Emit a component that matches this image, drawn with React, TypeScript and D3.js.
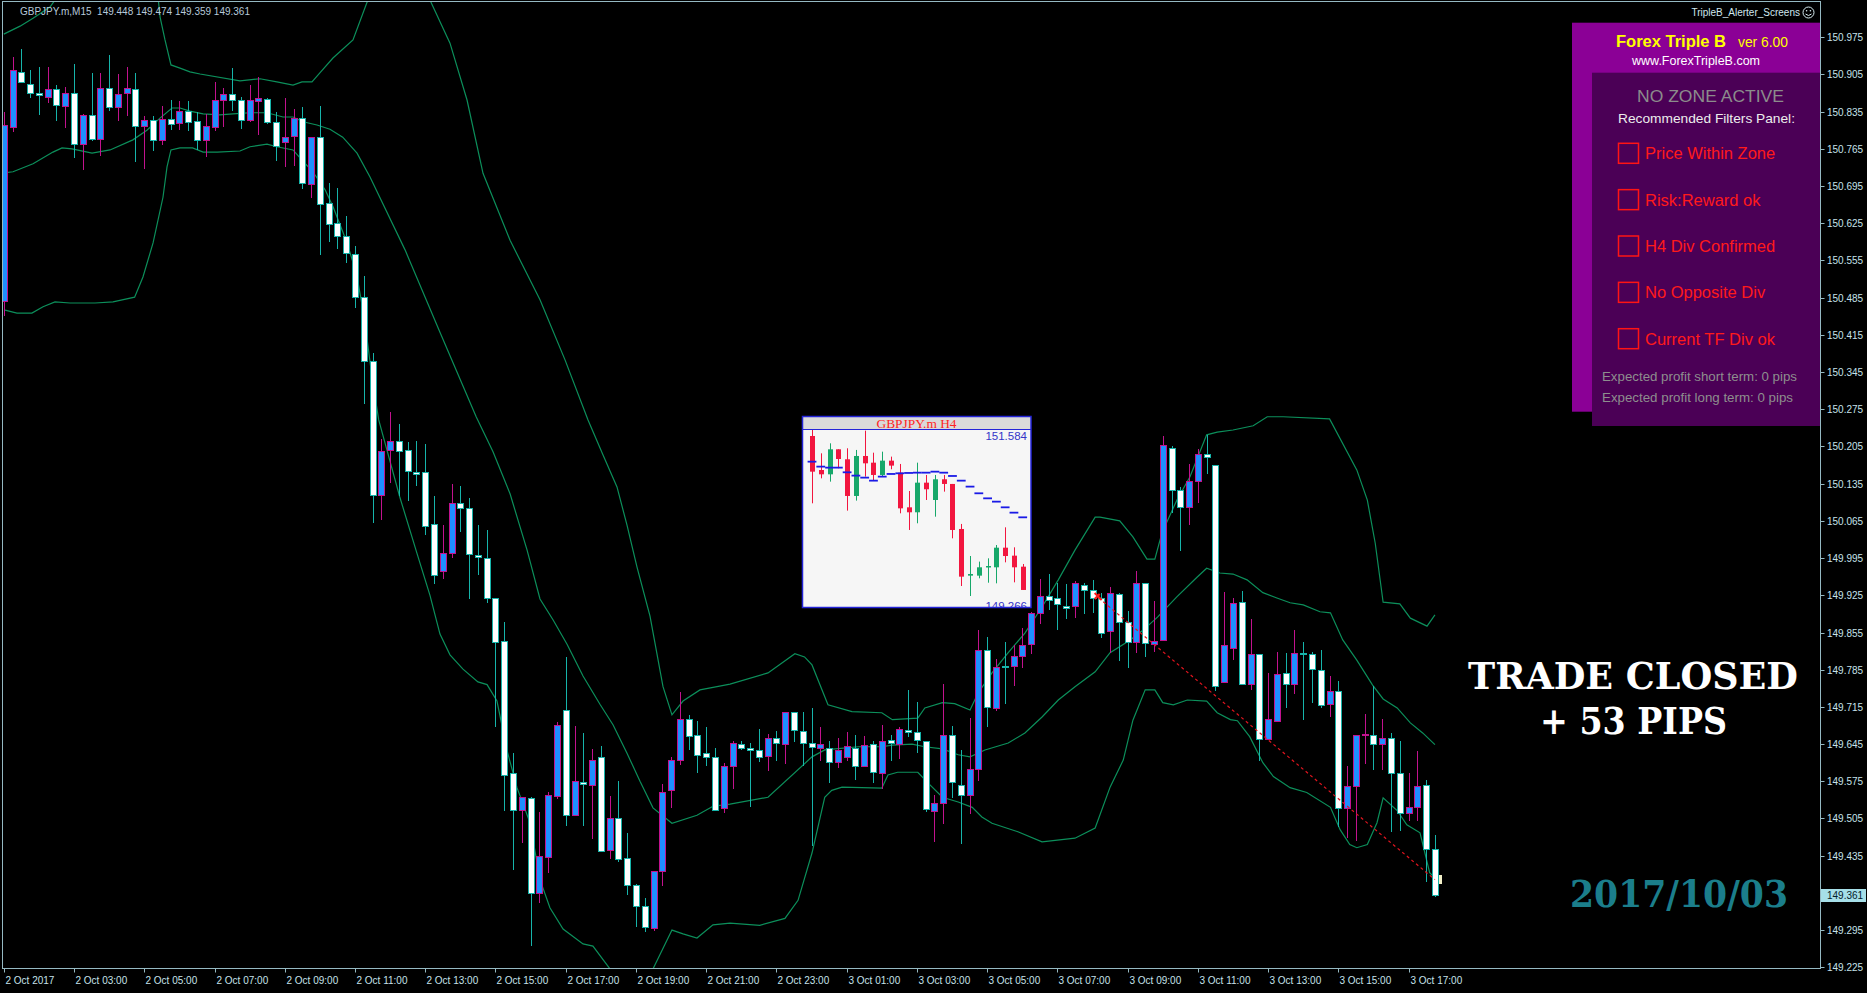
import React from "react";
import * as d3 from "d3";

const W = 1867;
const H = 993;

// ---------- main chart data (GBPJPY.m, M15) ----------
const xTickLabels = [
  "2 Oct 2017", "2 Oct 03:00", "2 Oct 05:00", "2 Oct 07:00", "2 Oct 09:00", "2 Oct 11:00",
  "2 Oct 13:00", "2 Oct 15:00", "2 Oct 17:00", "2 Oct 19:00", "2 Oct 21:00", "2 Oct 23:00",
  "3 Oct 01:00", "3 Oct 03:00", "3 Oct 05:00", "3 Oct 07:00", "3 Oct 09:00", "3 Oct 11:00",
  "3 Oct 13:00", "3 Oct 15:00", "3 Oct 17:00",
];
const barsPerLabel = 8;

const yTickValues = [
  150.975, 150.905, 150.835, 150.765, 150.695, 150.625, 150.555, 150.485, 150.415, 150.345,
  150.275, 150.205, 150.135, 150.065, 149.995, 149.925, 149.855, 149.785, 149.715, 149.645,
  149.575, 149.505, 149.435, 149.365, 149.295, 149.225,
];

const opens = [
  150.478, 150.806, 150.909, 150.888, 150.870, 150.862, 150.878, 150.845, 150.871, 150.775,
  150.828, 150.783, 150.879, 150.843, 150.870, 150.878, 150.808, 150.819, 150.781, 150.821,
  150.814, 150.836, 150.818, 150.781, 150.807, 150.857, 150.868, 150.857, 150.819, 150.856,
  150.859, 150.816, 150.778, 150.789, 150.823, 150.699, 150.787, 150.664, 150.625, 150.602,
  150.568, 150.487, 150.365, 150.113, 150.199, 150.215, 150.199, 150.157, 150.157, 150.059,
  149.970, 150.005, 150.098, 150.090, 150.001, 149.996, 149.920, 149.839, 149.590, 149.521,
  149.543, 149.364, 149.433, 149.547, 149.710, 149.512, 149.573, 149.568, 149.620, 149.446,
  149.506, 149.430, 149.380, 149.341, 149.299, 149.407, 149.559, 149.615, 149.692, 149.662,
  149.629, 149.621, 149.524, 149.603, 149.646, 149.637, 149.634, 149.623, 149.656, 149.645,
  149.706, 149.670, 149.648, 149.637, 149.638, 149.611, 149.621, 149.638, 149.604, 149.645,
  149.590, 149.653, 149.646, 149.672, 149.668, 149.651, 149.520, 149.535, 149.663, 149.568,
  149.549, 149.599, 149.822, 149.712, 149.792, 149.792, 149.810, 149.833, 149.892, 149.924,
  149.919, 149.905, 149.904, 149.944, 149.935, 149.919, 149.858, 149.927, 149.875, 149.837,
  149.948, 149.833, 149.841, 150.203, 150.123, 150.091, 150.141, 150.190, 150.171, 149.761,
  149.825, 149.912, 149.758, 149.814, 149.654, 149.688, 149.778, 149.759, 149.816, 149.814,
  149.784, 149.720, 149.745, 149.524, 149.566, 149.662, 149.662, 149.646, 149.656, 149.590,
  149.516, 149.526, 149.568, 149.448,
];
const highs = [
  150.835, 150.937, 150.953, 150.913, 150.920, 150.920, 150.885, 150.882, 150.925, 150.831,
  150.907, 150.908, 150.942, 150.906, 150.920, 150.907, 150.827, 150.826, 150.845, 150.857,
  150.856, 150.856, 150.835, 150.831, 150.890, 150.880, 150.917, 150.862, 150.885, 150.900,
  150.860, 150.835, 150.860, 150.841, 150.843, 150.788, 150.846, 150.701, 150.691, 150.639,
  150.583, 150.526, 150.380, 150.219, 150.270, 150.248, 150.214, 150.215, 150.210, 150.112,
  150.058, 150.135, 150.131, 150.108, 150.058, 150.047, 149.920, 149.874, 149.628, 149.545,
  149.546, 149.517, 149.554, 149.687, 149.808, 149.679, 149.665, 149.636, 149.642, 149.547,
  149.575, 149.477, 149.382, 149.356, 149.407, 149.570, 149.620, 149.743, 149.700, 149.689,
  149.677, 149.638, 149.610, 149.650, 149.650, 149.648, 149.673, 149.664, 149.670, 149.706,
  149.706, 149.706, 149.712, 149.678, 149.651, 149.656, 149.667, 149.662, 149.660, 149.650,
  149.681, 149.662, 149.678, 149.746, 149.725, 149.651, 149.549, 149.759, 149.679, 149.634,
  149.695, 149.860, 149.846, 149.805, 149.838, 149.831, 149.863, 149.894, 149.955, 149.966,
  149.949, 149.946, 149.951, 149.948, 149.954, 149.930, 149.941, 149.929, 149.896, 149.971,
  149.949, 149.914, 150.225, 150.205, 150.128, 150.172, 150.200, 150.227, 150.171, 149.932,
  149.919, 149.933, 149.880, 149.814, 149.779, 149.819, 149.817, 149.860, 149.838, 149.819,
  149.822, 149.773, 149.764, 149.604, 149.662, 149.701, 149.754, 149.692, 149.665, 149.650,
  149.590, 149.632, 149.577, 149.474,
];
const lows = [
  150.452, 150.799, 150.890, 150.863, 150.831, 150.853, 150.819, 150.806, 150.750, 150.727,
  150.782, 150.754, 150.838, 150.819, 150.829, 150.743, 150.730, 150.762, 150.775, 150.803,
  150.802, 150.801, 150.764, 150.752, 150.801, 150.808, 150.838, 150.804, 150.818, 150.793,
  150.813, 150.744, 150.732, 150.735, 150.691, 150.675, 150.568, 150.592, 150.578, 150.553,
  150.468, 150.286, 150.063, 150.069, 150.139, 150.113, 150.104, 150.133, 150.040, 149.948,
  149.957, 149.997, 150.046, 149.920, 149.966, 149.912, 149.679, 149.521, 149.410, 149.460,
  149.267, 149.347, 149.405, 149.543, 149.493, 149.512, 149.493, 149.468, 149.444, 149.430,
  149.425, 149.363, 149.302, 149.293, 149.295, 149.380, 149.527, 149.608, 149.636, 149.592,
  149.605, 149.521, 149.517, 149.562, 149.635, 149.528, 149.614, 149.596, 149.616, 149.609,
  149.650, 149.606, 149.455, 149.615, 149.574, 149.601, 149.615, 149.579, 149.603, 149.574,
  149.562, 149.615, 149.618, 149.660, 149.631, 149.520, 149.463, 149.496, 149.545, 149.458,
  149.516, 149.577, 149.679, 149.709, 149.722, 149.756, 149.791, 149.816, 149.873, 149.899,
  149.861, 149.882, 149.885, 149.891, 149.894, 149.847, 149.819, 149.803, 149.791, 149.818,
  149.811, 149.821, 149.841, 150.081, 150.010, 150.059, 150.101, 150.156, 149.746, 149.761,
  149.806, 149.758, 149.748, 149.616, 149.654, 149.688, 149.714, 149.741, 149.693, 149.725,
  149.715, 149.698, 149.490, 149.471, 149.465, 149.610, 149.599, 149.599, 149.482, 149.483,
  149.502, 149.502, 149.388, 149.359,
];
const closes = [
  150.810, 150.913, 150.890, 150.871, 150.866, 150.878, 150.847, 150.871, 150.774, 150.828,
  150.783, 150.879, 150.843, 150.868, 150.880, 150.809, 150.819, 150.781, 150.821, 150.811,
  150.836, 150.816, 150.781, 150.809, 150.857, 150.868, 150.857, 150.819, 150.857, 150.860,
  150.815, 150.771, 150.788, 150.823, 150.701, 150.787, 150.661, 150.623, 150.602, 150.570,
  150.487, 150.365, 150.113, 150.197, 150.215, 150.197, 150.159, 150.154, 150.056, 149.964,
  150.005, 150.098, 150.090, 150.003, 149.997, 149.920, 149.837, 149.587, 149.521, 149.545,
  149.364, 149.435, 149.550, 149.681, 149.512, 149.575, 149.570, 149.615, 149.444, 149.506,
  149.429, 149.379, 149.341, 149.301, 149.407, 149.555, 149.616, 149.692, 149.660, 149.625,
  149.621, 149.521, 149.603, 149.648, 149.638, 149.634, 149.621, 149.656, 149.648, 149.706,
  149.672, 149.648, 149.640, 149.645, 149.611, 149.633, 149.641, 149.604, 149.643, 149.593,
  149.651, 149.648, 149.673, 149.668, 149.653, 149.522, 149.535, 149.663, 149.574, 149.550,
  149.599, 149.822, 149.715, 149.791, 149.791, 149.810, 149.831, 149.892, 149.924, 149.917,
  149.908, 149.902, 149.948, 149.935, 149.919, 149.855, 149.929, 149.875, 149.837, 149.948,
  149.835, 149.839, 150.207, 150.123, 150.091, 150.141, 150.190, 150.185, 149.755, 149.832,
  149.910, 149.758, 149.815, 149.654, 149.692, 149.776, 149.758, 149.816, 149.814, 149.786,
  149.719, 149.745, 149.524, 149.566, 149.662, 149.664, 149.646, 149.656, 149.590, 149.516,
  149.527, 149.566, 149.447, 149.361,
];

// Bollinger-style envelope lines: [bar index, price]
const upperBand: [number, number][] = [
  [0, 150.981], [1.85, 150.996], [3.33, 151.011], [5.26, 151.032], [5.83, 151.045], [8.7, 151.092],
  [12.1, 151.121], [15.5, 151.102], [17.6, 151.045], [17.8, 151.013], [18.36, 150.97], [19.04, 150.923],
  [20.07, 150.917], [21.2, 150.91], [22.35, 150.906], [26.9, 150.893], [29.18, 150.897], [31.1, 150.891],
  [32.94, 150.885], [33.96, 150.891], [35.1, 150.891], [36.0, 150.908], [37.49, 150.936], [39.77, 150.97],
  [41.37, 151.041], [43.4, 151.092], [46.26, 151.092], [48.54, 151.045], [50.82, 150.964], [52.76, 150.857],
  [54.58, 150.719], [57.66, 150.593], [61.07, 150.481], [63.92, 150.368], [66.54, 150.255], [68.25, 150.189],
  [69.84, 150.129], [70.98, 150.057], [72.12, 149.978], [73.6, 149.886], [75.08, 149.753], [76.1, 149.7],
  [77.36, 149.726], [79.29, 149.747], [81.23, 149.753], [82.71, 149.758], [87.04, 149.779], [90.1, 149.815],
  [91.2, 149.809], [92.05, 149.794], [93.87, 149.719], [96.6, 149.706], [100.0, 149.704], [101.2, 149.691],
  [104.1, 149.694], [104.9, 149.713], [106.9, 149.723], [108.3, 149.721], [110.05, 149.709], [110.96, 149.741],
  [112.55, 149.779], [114.4, 149.817], [116.3, 149.854], [118.25, 149.903], [120.1, 149.954], [122.0, 150.01],
  [124.3, 150.072], [124.85, 150.072], [127.1, 150.065], [128.6, 150.035], [130.2, 149.993], [131.1, 149.993],
  [131.9, 150.042], [133.6, 150.104], [135.1, 150.148], [137.0, 150.227], [138.2, 150.232], [140.0, 150.236],
  [142.3, 150.244], [143.9, 150.261], [145.7, 150.261], [151.0, 150.257], [154.1, 150.161], [155.3, 150.104],
  [156.2, 150.023], [157.1, 149.912], [159.0, 149.909], [160.2, 149.882], [162.1, 149.867], [163.0, 149.888],
];
const middleBand: [number, number][] = [
  [0.02, 150.72], [1.05, 150.722], [3.33, 150.737], [5.6, 150.759], [6.63, 150.767], [7.77, 150.765],
  [10.05, 150.757], [12.1, 150.763], [14.7, 150.782], [16.3, 150.8], [17.79, 150.823], [19.16, 150.842],
  [20.07, 150.842], [21.2, 150.836], [22.7, 150.831], [24.6, 150.829], [26.1, 150.831], [28.04, 150.833],
  [29.98, 150.833], [31.8, 150.825], [32.94, 150.825], [34.08, 150.816], [35.67, 150.81], [37.15, 150.802],
  [38.6, 150.787], [40.23, 150.757], [41.71, 150.712], [45.7, 150.575], [49.7, 150.419], [53.8, 150.261],
  [55.72, 150.195], [57.66, 150.116], [59.6, 150.01], [61.07, 149.918], [62.55, 149.879], [64.15, 149.833],
  [65.97, 149.773], [67.9, 149.72], [69.4, 149.681], [70.98, 149.628], [72.46, 149.575], [73.94, 149.525],
  [76.1, 149.496], [78.95, 149.511], [80.77, 149.528], [82.71, 149.532], [87.04, 149.545], [92.05, 149.621],
  [93.5, 149.634], [97.3, 149.64], [100.0, 149.64], [101.2, 149.643], [103.44, 149.645], [104.9, 149.64],
  [106.9, 149.636], [108.7, 149.625], [110.05, 149.621], [111.75, 149.634], [114.4, 149.647], [116.3, 149.666],
  [118.25, 149.696], [120.1, 149.728], [122.0, 149.753], [124.3, 149.781], [126.0, 149.817], [128.3, 149.841],
  [129.8, 149.86], [131.4, 149.884], [133.6, 149.922], [135.9, 149.959], [137.0, 149.976], [138.5, 149.967],
  [140.0, 149.965], [141.6, 149.954], [143.4, 149.93], [145.0, 149.92], [146.5, 149.911], [148.0, 149.907],
  [149.9, 149.894], [151.1, 149.892], [152.5, 149.841], [154.1, 149.803], [155.9, 149.756], [157.1, 149.73],
  [158.7, 149.713], [160.2, 149.685], [161.6, 149.666], [163.0, 149.644],
];
const lowerBand: [number, number][] = [
  [0.02, 150.462], [1.5, 150.456], [3.2, 150.456], [4.47, 150.468], [5.83, 150.477], [7.54, 150.475],
  [10.39, 150.475], [12.44, 150.477], [14.9, 150.486], [15.85, 150.524], [17.0, 150.588], [18.13, 150.674],
  [18.59, 150.731], [19.04, 150.763], [20.07, 150.767], [21.5, 150.767], [22.7, 150.759], [24.3, 150.759],
  [26.9, 150.761], [28.04, 150.769], [29.98, 150.774], [31.1, 150.769], [32.94, 150.763], [33.74, 150.748],
  [35.2, 150.722], [36.6, 150.688], [37.5, 150.656], [39.1, 150.588], [40.2, 150.528], [41.1, 150.443],
  [41.9, 150.34], [42.7, 150.255], [45.1, 150.11], [47.06, 150.004], [48.54, 149.925], [49.68, 149.852],
  [50.82, 149.813], [52.3, 149.786], [54.0, 149.762], [55.04, 149.757], [56.17, 149.726], [57.3, 149.634],
  [58.45, 149.563], [59.93, 149.497], [61.07, 149.39], [62.2, 149.337], [63.7, 149.297], [65.97, 149.269],
  [67.1, 149.265], [69.04, 149.222], [70.75, 149.182], [72.46, 149.182], [73.94, 149.222], [76.1, 149.295],
  [77.36, 149.288], [78.95, 149.28], [80.77, 149.305], [82.71, 149.308], [86.1, 149.304], [88.97, 149.317],
  [90.46, 149.351], [92.05, 149.44], [93.5, 149.545], [94.3, 149.558], [95.47, 149.564], [100.0, 149.562],
  [100.7, 149.587], [101.8, 149.592], [104.1, 149.592], [105.26, 149.572], [106.9, 149.545], [108.7, 149.536],
  [110.3, 149.526], [111.4, 149.508], [112.55, 149.496], [115.5, 149.48], [118.25, 149.461], [122.0, 149.468],
  [124.3, 149.487], [126.0, 149.564], [127.5, 149.615], [128.6, 149.69], [130.0, 149.747], [131.1, 149.747],
  [132.0, 149.723], [133.2, 149.719], [134.8, 149.728], [137.0, 149.726], [138.2, 149.704], [139.7, 149.691],
  [140.5, 149.689], [141.9, 149.659], [143.4, 149.61], [144.6, 149.584], [146.5, 149.563], [148.4, 149.554],
  [151.1, 149.526], [152.2, 149.484], [153.3, 149.456], [154.1, 149.45], [155.3, 149.456], [156.4, 149.497],
  [157.1, 149.544], [158.7, 149.52], [159.8, 149.493], [161.3, 149.478], [162.4, 149.403], [163.2, 149.39],
];

const tradeEntryBar = 124.7;
const tradeEntryPrice = 149.92;
const tradeExitBar = 163;
const tradeExitPrice = 149.39;
const tradePips = 53;

// ---------- inset (GBPJPY.m H4) ----------
const insetOpens = [
  151.491, 151.018, 150.958, 151.306, 151.167, 150.657, 151.213, 151.12, 150.949, 151.148,
  150.981, 150.499, 150.43, 150.842, 150.601, 150.889, 150.824, 150.198, 149.549, 149.549,
  149.665, 149.665, 149.938, 149.827, 149.674,
];
const insetHighs = [
  151.584, 151.25, 151.389, 151.306, 151.32, 151.297, 151.565, 151.259, 151.273, 151.204,
  151.102, 150.726, 151.12, 150.949, 150.949, 150.949, 150.824, 150.268, 149.822, 149.744,
  149.79, 149.975, 150.221, 149.943, 149.711,
];
const insetLows = [
  150.555, 150.902, 150.856, 151.042, 150.453, 150.592, 150.926, 150.87, 150.926, 151.028,
  150.416, 150.184, 150.277, 150.601, 150.369, 150.717, 150.068, 149.405, 149.266, 149.512,
  149.451, 149.442, 149.734, 149.456, 149.35,
];
const insetCloses = [
  150.995, 150.958, 151.306, 151.171, 150.657, 151.213, 151.111, 150.949, 151.148, 151.079,
  150.485, 150.43, 150.842, 150.75, 150.889, 150.824, 150.184, 149.535, 149.572, 149.665,
  149.683, 149.938, 149.822, 149.665, 149.35,
];
const insetMA = [
  151.134, 151.065, 151.051, 151.051, 150.986, 150.94, 150.912, 150.87, 150.926, 150.963,
  150.972, 150.977, 150.981, 150.981, 150.995, 150.981, 150.935, 150.87, 150.787, 150.694,
  150.624, 150.578, 150.499, 150.425, 150.36,
];
const insetMax = 151.584;
const insetMin = 149.266;

// ---------- panel ----------
const filterLabels = [
  "Price Within Zone", "Risk:Reward ok", "H4 Div Confirmed", "No Opposite Div", "Current TF Div ok",
];

// ---------- colours ----------
const BG = "#000000";
const FRAME = "#95b9c2";
const AXIS_TEXT = "#c6e2ea";
const BEAR_FILL = "#ffffff";
const BEAR_EDGE = "#16b4aa";
const BULL_FILL = "#1e8fff";
const BULL_EDGE = "#c2128e";
const BAND = "#0c8f5b";
const FONT = "'Liberation Sans', Arial, sans-serif";

const LEFT = 2.5;
const TOP = 1.5;
const RIGHT = 1820.5;
const BOTTOM = 968.5;

export default function App() {
  const x = d3.scaleLinear().domain([0, 160]).range([3.8, 3.8 + 8.78 * 160]);
  const y = d3.scaleLinear().domain([149.225, 150.975]).range([967.3, 37.3]);

  const line = d3
    .line<[number, number]>()
    .x((d) => x(d[0]))
    .y((d) => y(d[1]));

  const xi = d3.scaleLinear().domain([0, 24]).range([812, 812 + 8.78 * 24]);
  const yi = d3.scaleLinear().domain([insetMin, insetMax]).range([596, 429.3]);

  const last = opens.length - 1;
  const header = `GBPJPY.m,M15  ${opens[last].toFixed(3)} ${highs[last].toFixed(3)} ${lows[last].toFixed(3)} ${closes[last].toFixed(3)}`;

  const entryX = x(tradeEntryBar);
  const entryY = y(tradeEntryPrice);

  return (
    <div style={{ width: W, height: H, background: BG }}>
      <style>{`html,body{margin:0;padding:0;background:#000;overflow:hidden}`}</style>
      <svg width={W} height={H} style={{ display: "block", background: BG }} fontFamily={FONT}>
        <defs>
          <clipPath id="plot">
            <rect x={LEFT + 0.5} y={TOP + 0.5} width={RIGHT - LEFT - 1} height={BOTTOM - TOP - 1} />
          </clipPath>
          <clipPath id="inset">
            <rect x={803} y={417} width={227} height={190} />
          </clipPath>
        </defs>

        {/* bands */}
        <g clipPath="url(#plot)" fill="none" stroke={BAND} strokeWidth={1.2}>
          <path d={line(upperBand) || ""} />
          <path d={line(middleBand) || ""} />
          <path d={line(lowerBand) || ""} />
        </g>

        {/* candles */}
        <g clipPath="url(#plot)">
          {opens.map((o, i) => {
            const c = closes[i];
            const bull = c > o;
            const cx = Math.round(x(i));
            const yTop = Math.round(y(Math.max(o, c))) + 0.5;
            const yBot = Math.round(y(Math.min(o, c))) + 0.5;
            const edge = bull ? BULL_EDGE : BEAR_EDGE;
            return (
              <g key={i}>
                <line
                  x1={cx + 0.5}
                  x2={cx + 0.5}
                  y1={Math.round(y(highs[i]))}
                  y2={Math.round(y(lows[i])) + 1}
                  stroke={edge}
                  strokeWidth={1}
                />
                <rect
                  x={cx - 2.5}
                  y={yTop}
                  width={6}
                  height={Math.max(yBot - yTop, 1)}
                  fill={bull ? BULL_FILL : BEAR_FILL}
                  stroke={edge}
                  strokeWidth={1}
                />
              </g>
            );
          })}
        </g>

        {/* trade line */}
        <g clipPath="url(#plot)">
          <line
            x1={entryX}
            y1={entryY}
            x2={x(tradeExitBar)}
            y2={y(tradeExitPrice)}
            stroke="#e0141e"
            strokeWidth={1.2}
            strokeDasharray="3,3"
          />
          <path
            d={`M${entryX - 4},${entryY - 5} L${entryX + 3},${entryY + 2} M${entryX - 4},${entryY + 1} L${entryX + 1},${entryY - 4}`}
            stroke="#ff1a1a"
            strokeWidth={2}
          />
          <rect
            x={Math.round(x(tradeExitBar)) + 4}
            y={Math.round(y(tradeExitPrice)) - 5}
            width={3}
            height={9}
            fill="#f2f0c8"
          />
        </g>

        {/* inset H4 chart */}
        <g>
          <rect x={802.5} y={416.5} width={228.5} height={191} fill="#f6f6f6" />
          <rect x={802.5} y={416.5} width={228.5} height={13} fill="#dadada" />
          <g clipPath="url(#inset)">
            {insetOpens.map((o, j) => {
              const c = insetCloses[j];
              const bull = c > o;
              const cx = Math.round(xi(j));
              const col = bull ? "#17a86a" : "#f2163f";
              const top = yi(Math.max(o, c));
              const bot = yi(Math.min(o, c));
              return (
                <g key={j}>
                  <line
                    x1={cx + 0.5}
                    x2={cx + 0.5}
                    y1={yi(insetHighs[j])}
                    y2={yi(insetLows[j])}
                    stroke={col}
                    strokeWidth={1}
                  />
                  <rect x={cx - 2} y={top} width={5} height={Math.max(bot - top, 1.5)} fill={col} />
                </g>
              );
            })}
            {insetMA.map((m, j) => (
              <line
                key={j}
                x1={xi(j) - 4.4}
                x2={xi(j) + 4.4}
                y1={yi(m)}
                y2={yi(m)}
                stroke="#1a1ae6"
                strokeWidth={1.8}
              />
            ))}
            <text x={1027} y={440} textAnchor="end" fontSize={11.5} fill="#3434c8">
              {insetMax.toFixed(3)}
            </text>
            <text x={1027} y={610} textAnchor="end" fontSize={11.5} fill="#3434c8">
              {insetMin.toFixed(3)}
            </text>
          </g>
          <text
            x={916.5}
            y={428}
            textAnchor="middle"
            fontSize={13}
            fontFamily="'Liberation Serif', 'Times New Roman', serif"
            fill="#ff2424"
            textLength={80}
            lengthAdjust="spacingAndGlyphs"
          >
            GBPJPY.m H4
          </text>
          <line x1={802.5} x2={1031} y1={429.5} y2={429.5} stroke="#2424d8" strokeWidth={1} />
          <rect x={802.5} y={416.5} width={228.5} height={191} fill="none" stroke="#2424d8" strokeWidth={1.5} />
        </g>

        {/* frame */}
        <rect x={LEFT} y={TOP} width={RIGHT - LEFT} height={BOTTOM - TOP} fill="none" stroke={FRAME} strokeWidth={1} />

        {/* y axis */}
        <g>
          {yTickValues.map((v) => {
            const yy = Math.round(y(v)) + 0.5;
            return (
              <g key={v}>
                <line x1={RIGHT} x2={RIGHT + 4} y1={yy} y2={yy} stroke={FRAME} />
                <text x={1827} y={yy + 3.6} fontSize={10} fill={AXIS_TEXT}>
                  {v.toFixed(3)}
                </text>
              </g>
            );
          })}
          {(() => {
            const yy = Math.round(y(closes[last])) + 0.5;
            return (
              <g>
                <rect x={1821} y={yy - 6.5} width={45} height={13} fill="#a6dfe8" />
                <text x={1827} y={yy + 3.6} fontSize={10} fill="#05202a">
                  {closes[last].toFixed(3)}
                </text>
              </g>
            );
          })()}
        </g>

        {/* x axis */}
        <g>
          {xTickLabels.map((lab, k) => {
            const xx = Math.round(x(k * barsPerLabel)) + 0.5;
            return (
              <g key={lab}>
                <line x1={xx} x2={xx} y1={BOTTOM} y2={BOTTOM + 4} stroke={FRAME} />
                <text x={xx + 1} y={984} fontSize={10} fill={AXIS_TEXT}>
                  {lab}
                </text>
              </g>
            );
          })}
        </g>

        {/* header */}
        <text x={20} y={14.6} fontSize={10} fill="#b6c9da" style={{ whiteSpace: "pre" }}>
          {header}
        </text>
        <text x={1800} y={16.3} fontSize={10} fill="#cfe7ee" textAnchor="end">
          TripleB_Alerter_Screens
        </text>
        <g stroke="#d8eef2" fill="none" strokeWidth={1}>
          <circle cx={1808.5} cy={12.5} r={5.5} />
          <path d="M1805.5,14 Q1808.5,17 1811.5,14" />
        </g>
        <circle cx={1806.6} cy={10.8} r={0.8} fill="#d8eef2" />
        <circle cx={1810.4} cy={10.8} r={0.8} fill="#d8eef2" />

        {/* Forex Triple B panel */}
        <g>
          <rect x={1572} y={22.7} width={248} height={389} fill="#8b0096" />
          <rect x={1592} y={72.7} width={228} height={353.3} fill="#4b0056" />
          <text x={1616} y={47} fontSize={16} fontWeight="bold" fill="#ffff00" textLength={110} lengthAdjust="spacingAndGlyphs">
            Forex Triple B
          </text>
          <text x={1738} y={47} fontSize={14} fill="#ffff00" textLength={50} lengthAdjust="spacingAndGlyphs">
            ver 6.00
          </text>
          <text x={1696} y={65} fontSize={12.5} fill="#ffffff" textAnchor="middle" textLength={128} lengthAdjust="spacingAndGlyphs">
            www.ForexTripleB.com
          </text>
          <text x={1710.5} y={102} fontSize={17} fill="#8c8c8c" textAnchor="middle" textLength={147} lengthAdjust="spacingAndGlyphs">
            NO ZONE ACTIVE
          </text>
          <text x={1706.5} y={123} fontSize={13} fill="#ececec" textAnchor="middle" textLength={177} lengthAdjust="spacingAndGlyphs">
            Recommended Filters Panel:
          </text>
          {filterLabels.map((lab, k) => {
            const cy = 153.3 + k * 46.35;
            return (
              <g key={lab}>
                <rect x={1618.5} y={cy - 10} width={20} height={20} fill="none" stroke="#ff1414" strokeWidth={1.5} />
                <text x={1645} y={cy + 6} fontSize={16.5} fill="#ff1a1a">
                  {lab}
                </text>
              </g>
            );
          })}
          <text x={1602} y={381} fontSize={12.5} fill="#8e8e8e" textLength={195} lengthAdjust="spacingAndGlyphs">
            Expected profit short term: 0 pips
          </text>
          <text x={1602} y={402} fontSize={12.5} fill="#8e8e8e" textLength={191} lengthAdjust="spacingAndGlyphs">
            Expected profit long term: 0 pips
          </text>
        </g>

        {/* trade result */}
        <g fontFamily="'DejaVu Serif', 'Liberation Serif', serif" fontWeight="bold">
          <text x={1633} y={689} fontSize={37} fill="#ffffff" textAnchor="middle" textLength={330} lengthAdjust="spacingAndGlyphs">
            TRADE CLOSED
          </text>
          <text x={1633.5} y={734} fontSize={37} fill="#ffffff" textAnchor="middle" textLength={187} lengthAdjust="spacingAndGlyphs">
            {`+ ${tradePips} PIPS`}
          </text>
          <text x={1570} y={906.7} fontSize={37} fill="#1b7e8b" textLength={218} lengthAdjust="spacingAndGlyphs">
            2017/10/03
          </text>
        </g>
      </svg>
    </div>
  );
}
